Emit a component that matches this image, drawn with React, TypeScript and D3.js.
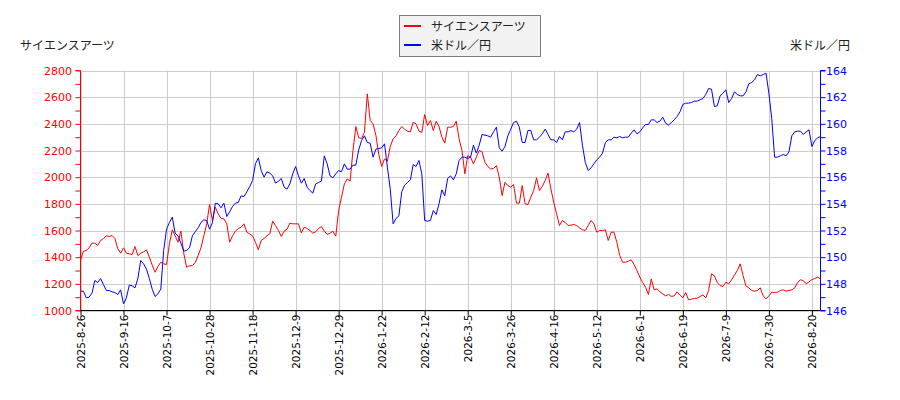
import * as d3 from 'd3';
import { useEffect, useRef } from 'react';

const dateLabels = [
  '2025-8-26', '2025-9-16', '2025-10-7', '2025-10-28', '2025-11-18', '2025-12-9',
  '2025-12-29', '2026-1-22', '2026-2-12', '2026-3-5', '2026-3-26', '2026-4-16',
  '2026-5-12', '2026-6-1', '2026-6-19', '2026-7-9', '2026-7-30', '2026-8-20',
];

const stockName = 'サイエンスアーツ';
const fxName = '米ドル／円';

// サイエンスアーツ closing prices (left axis)
const stockValues = [
  1375, 1445, 1450, 1470, 1505, 1505, 1487, 1525, 1540, 1560,
  1555, 1562, 1540, 1462, 1430, 1470, 1430, 1425, 1420, 1480,
  1412, 1430, 1440, 1455, 1400, 1340, 1287, 1330, 1362, 1350,
  1345, 1500, 1605, 1560, 1512, 1595, 1430, 1325, 1335, 1337,
  1360, 1412, 1470, 1560, 1650, 1795, 1675, 1775, 1725, 1690,
  1687, 1650, 1512, 1560, 1595, 1615, 1625, 1650, 1587, 1575,
  1560, 1512, 1455, 1525, 1540, 1560, 1575, 1670, 1637, 1600,
  1555, 1595, 1610, 1655, 1650, 1650, 1650, 1582, 1625, 1615,
  1600, 1580, 1590, 1615, 1630, 1595, 1570, 1580, 1595, 1557,
  1750, 1850, 1950, 1987, 1970, 2200, 2380, 2295, 2290, 2337,
  2625, 2425, 2400, 2312, 2170, 2080, 2137, 2120, 2230, 2287,
  2310, 2350, 2380, 2360, 2345, 2340, 2412, 2400, 2345, 2335,
  2470, 2387, 2425, 2350, 2420, 2380, 2300, 2255, 2375, 2375,
  2380, 2420, 2287, 2200, 2025, 2162, 2150, 2100, 2150, 2200,
  2190, 2112, 2080, 2062, 2065, 2087, 2000, 1862, 1962, 1937,
  1925, 1945, 1805, 1805, 1937, 1800, 1795, 1850, 1900, 1995,
  1900, 1930, 1975, 2030, 1912, 1812, 1725, 1637, 1675, 1660,
  1637, 1640, 1645, 1637, 1620, 1605, 1600, 1637, 1675, 1650,
  1587, 1600, 1600, 1605, 1525, 1587, 1587, 1512, 1412, 1362,
  1362, 1370, 1380, 1345, 1300, 1250, 1210, 1175, 1120, 1237,
  1155, 1162, 1140, 1125, 1110, 1120, 1105, 1110, 1140, 1115,
  1095, 1135, 1080, 1085, 1090, 1092, 1105, 1117, 1095, 1150,
  1275, 1260, 1210, 1187, 1180, 1212, 1200, 1230, 1265, 1300,
  1350, 1262, 1185, 1170, 1150, 1145, 1150, 1170, 1110, 1087,
  1110, 1137, 1135, 1137, 1150, 1155, 1145, 1150, 1155, 1170,
  1210, 1230, 1225, 1200, 1215, 1232, 1240, 1250, 1237,
];

// 米ドル／円 (right axis)
const fxValues = [
  147.45, 147.45, 146.95, 147.0, 147.3, 148.25, 148.1, 148.4, 147.95, 147.5,
  147.5, 147.4, 147.35, 147.2, 147.55, 146.5, 146.95, 147.9, 147.85, 147.7,
  148.4, 149.75, 149.5, 149.1, 148.4, 147.6, 147.05, 147.25, 147.6, 150.5,
  152.1, 152.6, 153.0, 151.8, 151.6, 151.05, 150.45, 150.5, 150.7, 151.6,
  151.9, 152.2, 152.6, 152.8, 152.75, 152.1, 152.6, 154.05, 154.0, 153.7,
  154.05, 153.05, 153.4, 153.8, 154.05, 154.1, 154.6, 154.55, 154.9, 155.3,
  155.75, 157.0, 157.45, 156.5, 156.0, 156.4, 156.3, 156.1, 155.55, 155.7,
  155.9, 155.25, 155.1, 155.5, 156.25, 156.8, 156.1, 155.55, 155.9, 155.25,
  155.0, 154.8, 155.5, 155.6, 155.7, 157.6, 157.0, 156.1, 155.95, 156.25,
  156.5, 156.4, 157.0, 156.6, 156.6, 156.9, 156.9, 158.05, 158.75, 159.1,
  158.6, 158.55, 157.5, 158.1, 158.15, 158.2, 158.5, 156.75, 155.1, 152.5,
  152.9, 153.1, 154.9, 155.4, 155.6, 155.8, 156.95, 156.8, 157.25, 156.25,
  152.75, 152.7, 152.75, 153.5, 153.2, 154.0, 155.05, 154.6, 155.9, 156.1,
  155.8, 156.25, 157.25, 157.5, 157.5, 157.4, 157.5, 158.4, 157.8, 158.4,
  159.2, 159.15, 159.1, 159.0, 159.4, 159.75, 158.2, 157.95, 158.3, 159.1,
  159.6, 160.1, 160.2, 159.75, 158.6, 158.6, 159.5, 159.5, 158.8, 158.8,
  159.0, 159.25, 159.6, 159.2, 158.8, 158.8, 158.6, 159.05, 158.8, 159.4,
  159.4, 159.5, 159.4, 159.6, 160.1, 158.4, 157.1, 156.5, 156.7, 157.0,
  157.3, 157.5, 157.8, 158.6, 158.8, 158.8, 159.0, 158.95, 159.05, 158.95,
  159.0, 159.0, 159.3, 159.55, 159.25, 159.4, 159.7, 159.95, 159.95, 160.3,
  160.3, 160.1, 160.2, 160.5, 160.05, 159.9, 160.1, 160.3, 160.55, 160.9,
  161.45, 161.55, 161.55, 161.6, 161.7, 161.7, 161.8, 161.9, 162.2, 162.65,
  162.6, 161.3, 161.35, 162.1, 162.3, 162.55, 161.6, 161.9, 162.4, 162.2,
  162.1, 162.1, 162.4, 163.0, 163.1, 163.3, 163.7, 163.6, 163.7, 163.8,
  162.3, 160.4, 157.5, 157.5, 157.6, 157.7, 157.6, 157.9, 159.1, 159.4,
  159.45, 159.45, 159.2, 159.4, 159.55, 158.3, 158.75, 158.95, 159.05,
];

const leftTicks = [1000, 1200, 1400, 1600, 1800, 2000, 2200, 2400, 2600, 2800];
const rightTicks = [146, 148, 150, 152, 154, 156, 158, 160, 162, 164];

const W = 900;
const H = 400;
const M = { left: 80.5, right: 820.5, top: 70.5, bottom: 310.5 };
const FONT = '"DejaVu Sans", sans-serif';
const JP = '"Noto Sans CJK JP", sans-serif';

export default function App() {
  const ref = useRef<SVGSVGElement>(null);

  useEffect(() => {
    const svg = d3.select(ref.current);
    svg.selectAll('*').remove();

    const n = stockValues.length;
    const x = d3.scaleLinear().domain([0, n - 1]).range([M.left, M.right]);
    const yL = d3.scaleLinear().domain([1000, 2800]).range([M.bottom, M.top]);
    const yR = d3.scaleLinear().domain([146, 164]).range([M.bottom, M.top]);
    const tickIdx = dateLabels.map((_, i) => i * 15);

    svg.append('rect').attr('width', W).attr('height', H).attr('fill', '#fff');

    // grid
    const grid = svg.append('g').attr('stroke', '#cccccc').attr('stroke-width', 1);
    tickIdx.forEach((i) => {
      const px = Math.round(x(i)) + 0.5;
      grid.append('line').attr('x1', px).attr('x2', px).attr('y1', M.top).attr('y2', M.bottom);
    });
    leftTicks.forEach((v) => {
      const py = Math.round(yL(v)) + 0.5;
      grid.append('line').attr('x1', M.left).attr('x2', M.right).attr('y1', py).attr('y2', py);
    });

    // series
    const lineL = d3.line<number>().x((_, i) => x(i)).y((d) => yL(d));
    const lineR = d3.line<number>().x((_, i) => x(i)).y((d) => yR(d));
    svg.append('path').datum(stockValues).attr('d', lineL).attr('fill', 'none')
      .attr('stroke', '#ff0000').attr('stroke-width', 1);
    svg.append('path').datum(fxValues).attr('d', lineR).attr('fill', 'none')
      .attr('stroke', '#0000ff').attr('stroke-width', 1);

    // left axis
    const gl = svg.append('g').attr('transform', `translate(${M.left},0)`)
      .call(d3.axisLeft(yL).tickValues(d3.range(1000, 2801, 100)).tickSize(5).tickFormat(() => ''));
    gl.selectAll('line, path').attr('stroke', '#ff0000');
    gl.select('.domain').attr('d', `M-5,${M.top}H0V${M.bottom}H-5`);
    svg.append('g').selectAll('text').data(leftTicks).enter().append('text')
      .attr('x', 72).attr('y', (d) => yL(d) + 4).attr('text-anchor', 'end')
      .attr('fill', '#ff0000').attr('font-family', FONT).attr('font-size', 11)
      .text((d) => d);

    // right axis
    const gr = svg.append('g').attr('transform', `translate(${M.right},0)`)
      .call(d3.axisRight(yR).tickValues(d3.range(146, 164.5, 1)).tickSize(5).tickFormat(() => ''));
    gr.selectAll('line, path').attr('stroke', '#0000ff');
    gr.select('.domain').attr('d', `M5,${M.top}H0V${M.bottom}H5`);
    svg.append('g').selectAll('text').data(rightTicks).enter().append('text')
      .attr('x', 826).attr('y', (d) => yR(d) + 4).attr('text-anchor', 'start')
      .attr('fill', '#0000ff').attr('font-family', FONT).attr('font-size', 11)
      .text((d) => d);

    // bottom axis
    const gb = svg.append('g').attr('transform', `translate(0,${M.bottom})`)
      .call(d3.axisBottom(x).tickValues(tickIdx).tickSize(5).tickFormat(() => ''));
    gb.selectAll('line, path').attr('stroke', '#000');
    gb.select('.domain').attr('d', `M${M.left},0H${M.right}`);
    svg.append('g').selectAll('text').data(tickIdx).enter().append('text')
      .attr('transform', (d) => `translate(${x(d) + 4},${M.bottom + 4}) rotate(-90)`)
      .attr('text-anchor', 'end').attr('fill', '#000')
      .attr('font-family', FONT).attr('font-size', 10.5)
      .text((_, i) => dateLabels[i]);

    // axis titles
    svg.append('text').attr('x', 20).attr('y', 50).attr('font-family', JP).attr('font-size', 12)
      .attr('fill', '#222').text(stockName);
    svg.append('text').attr('x', 850).attr('y', 50).attr('text-anchor', 'end')
      .attr('font-family', JP).attr('font-size', 12).attr('fill', '#222').text(fxName);

    // legend
    const lg = svg.append('g');
    lg.append('rect').attr('x', 399.5).attr('y', 15.5).attr('width', 141).attr('height', 41)
      .attr('fill', '#f2f2f2').attr('stroke', '#808080');
    [{ name: stockName, color: '#ff0000' }, { name: fxName, color: '#0000ff' }].forEach((s, i) => {
      const ly = 26 + i * 19;
      lg.append('line').attr('x1', 404).attr('x2', 421).attr('y1', ly).attr('y2', ly)
        .attr('stroke', s.color).attr('stroke-width', 2);
      lg.append('text').attr('x', 431).attr('y', ly + 4.5).attr('font-family', JP)
        .attr('font-size', 12).attr('fill', '#222').text(s.name);
    });
  }, []);

  return (
    <svg ref={ref} width={W} height={H}
      style={{ position: 'absolute', left: 0, top: 0, display: 'block' }} />
  );
}
